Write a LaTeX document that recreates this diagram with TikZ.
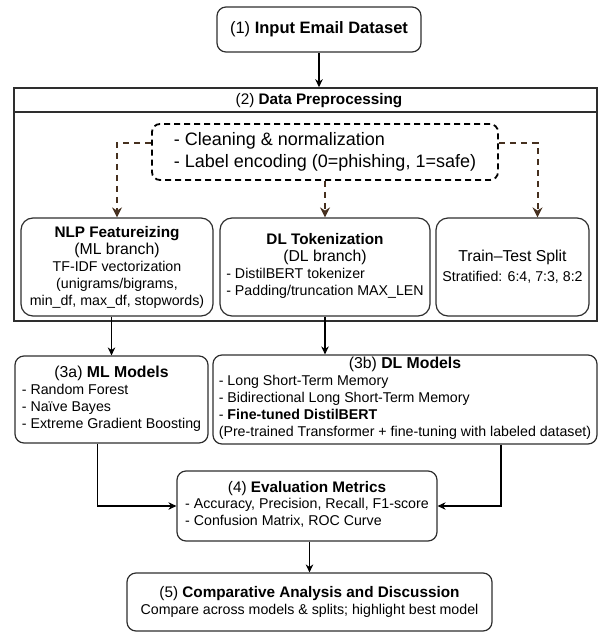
\documentclass[tikz,border=0pt]{standalone}
\usepackage{fontspec}
\setmainfont{Liberation Sans}
\usepackage{tikz}
\usetikzlibrary{arrows.meta,positioning,calc}
\definecolor{ink}{HTML}{000000}
\definecolor{frame}{HTML}{2E2E2E}
\definecolor{umber}{HTML}{46301F}
\newcommand{\fsbody}{\fontsize{14.2pt}{17pt}\selectfont}
\newcommand{\fsmid}{\fontsize{15.8pt}{19pt}\selectfont}
\newcommand{\fshead}{\fontsize{15.3pt}{18pt}\selectfont}
\newcommand{\fsbig}{\fontsize{16.5pt}{20pt}\selectfont}
\newcommand{\fsclean}{\fontsize{18pt}{22pt}\selectfont}
\tikzset{
  >={Stealth[length=8pt,width=7.5pt]},
  every node/.style={text=ink,inner sep=0pt,font=\fsbody},
  stage/.style={draw=frame,line width=1.2pt,rounded corners=9pt,align=center},
  panel/.style={draw=frame,line width=1.6pt},
  prepbox/.style={draw=ink,line width=1.8pt,dash pattern=on 6pt off 4pt,rounded corners=8pt,align=left,font=\fsclean},
  arrow/.style={->,line width=1.1pt,draw=ink},
  branch/.style={-{Stealth[length=10pt,width=10pt]},line width=2pt,dash pattern=on 6pt off 5pt,draw=umber,color=umber}
}
\begin{document}
\begin{tikzpicture}[x=1pt,y=-1pt]
  \useasboundingbox (0,0) rectangle (601,632);
  \node[stage,minimum width=204pt,minimum height=45pt,font=\fsbig] (input) at (319,29.5) {(1) \textbf{Input Email Dataset}};
  \node[panel,minimum width=583pt,minimum height=233pt] (prep) at (305.5,204.5) {};
  \draw[panel] ($(prep.north west)+(0,25)$) -- ($(prep.north east)+(0,25)$);
  \node[font=\fshead] (preptitle) at (319,100.5) {(2) \textbf{Data Preprocessing}};
  \node[prepbox,minimum width=346pt,minimum height=56pt] (clean) at (325,152) {- Cleaning \& normalization\\- Label encoding (0=phishing, 1=safe)};

  \node[stage,rounded corners=12pt,minimum width=192pt,minimum height=98pt] (nlp) at (117,267) {{\fshead\textbf{NLP Featureizing}}\\{\fsmid (ML branch)}\\TF-IDF vectorization\\(unigrams/bigrams,\\min\_df, max\_df, stopwords)};
  \node[stage,rounded corners=12pt,minimum width=210pt,minimum height=98pt] (tok) at (325,267) {{\fshead\textbf{DL Tokenization}}\\{\fsmid (DL branch)}\\\begin{tabular}[t]{@{}l@{}}- DistilBERT tokenizer\\- Padding/truncation MAX\_LEN\end{tabular}};
  \node[stage,rounded corners=12pt,minimum width=153pt,minimum height=98pt] (split) at (512.5,267) {{\fsmid Train–Test Split}\\[3pt]Stratified: 6:4, 7:3, 8:2};

  \draw[arrow] (input.south) -- (input.south |- prep.north);
  \draw[branch] ($(clean.west)+(0,-9)$) -| (nlp.north);
  \draw[branch] (clean.south) -- (tok.north);
  \draw[branch] ($(clean.east)+(0,-9)$) -| ($(split.north)+(25,0)$);

  \node[stage,minimum width=193pt,minimum height=87pt] (ml) at (111.5,399.5) {{\fsmid (3a) \textbf{ML Models}}\\\begin{tabular}[t]{@{}l@{}}- Random Forest\\- Naïve Bayes\\- Extreme Gradient Boosting\end{tabular}};
  \node[stage,minimum width=384pt,minimum height=89pt] (dl) at (405,399.5) {{\fsmid (3b) \textbf{DL Models}}\\\begin{tabular}[t]{@{}l@{}}- Long Short-Term Memory\\- Bidirectional Long Short-Term Memory\\- \textbf{Fine-tuned DistilBERT}\\(Pre-trained Transformer + fine-tuning with labeled dataset)\end{tabular}};
  \draw[arrow] (ml.north |- nlp.south) -- (ml.north);
  \draw[arrow] (tok.south) -- (tok.south |- dl.north);

  \node[stage,minimum width=260pt,minimum height=70pt] (eval) at (307,506) {{\fshead (4) \textbf{Evaluation Metrics}}\\\begin{tabular}[t]{@{}l@{}}- Accuracy, Precision, Recall, F1-score\\- Confusion Matrix, ROC Curve\end{tabular}};
  \draw[arrow] ($(ml.south)+(-14,0)$) |- (eval.west);
  \draw[arrow] ($(dl.south)+(96,0)$) |- (eval.east);

  \node[stage,minimum width=365pt,minimum height=58pt] (report) at (309.5,602) {{\fshead (5) \textbf{Comparative Analysis and Discussion}}\\Compare across models \& splits; highlight best model};
  \draw[arrow] (report.north |- eval.south) -- (report.north);
\end{tikzpicture}
\end{document}
